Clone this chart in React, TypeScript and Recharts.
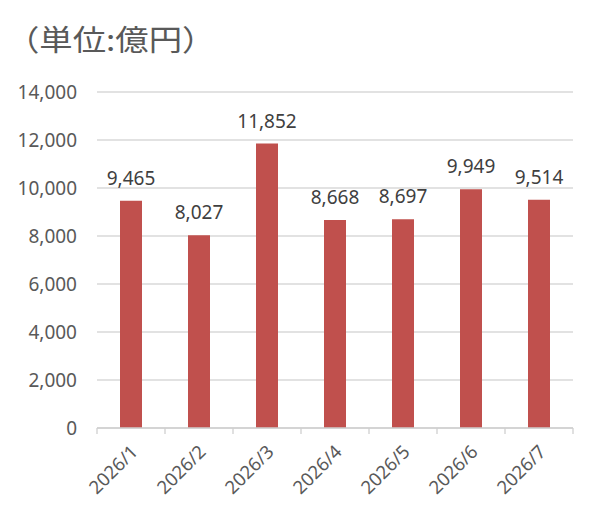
import React from "react";
import { BarChart, Bar, XAxis, YAxis, CartesianGrid, LabelList } from "recharts";

const months = ["2026/1", "2026/2", "2026/3", "2026/4", "2026/5", "2026/6", "2026/7"];
const amounts = [9465, 8027, 11852, 8668, 8697, 9949, 9514];
const yTicks = [0, 2000, 4000, 6000, 8000, 10000, 12000, 14000];
const boundaryTicks = [0, 1, 2, 3, 4, 5, 6, 7];

const TEXT = "#595959";
const FONT = "'Noto Sans', 'Open Sans', sans-serif";

const data = months.map((m, i) => ({ month: m, value: amounts[i], idx: i + 0.5 }));

const fmt = (v: number) => v.toLocaleString("en-US");

function MonthTick(props: any) {
  const { x, y, payload } = props;
  return (
    <g transform={`translate(${x + 8},${y + 24})`}>
      <text
        x={0}
        y={0}
        textAnchor="end"
        transform="rotate(-45)"
        fill={TEXT}
        fontSize={18.5}
        fontFamily={FONT}
      >
        {payload.value}
      </text>
    </g>
  );
}

export default function App() {
  return (
    <div style={{ position: "fixed", left: 0, top: 0, width: 600, height: 523, background: "#fff" }}>
      <div
        style={{
          position: "absolute",
          left: 6,
          top: 24,
          fontSize: 29,
          lineHeight: 1,
          color: TEXT,
          fontFamily: "'Noto Sans CJK JP', sans-serif",
          whiteSpace: "nowrap",
          transform: "scaleX(1.15)",
          transformOrigin: "left top",
        }}
      >
        （単位:億円）
      </div>
      <BarChart
        width={600}
        height={523}
        data={data}
        margin={{ top: 92, right: 27, bottom: 13, left: 0 }}
      >
        <CartesianGrid xAxisId="x1" vertical={false} stroke="#d9d9d9" strokeWidth={1.3} />
        <XAxis
          xAxisId="x0"
          type="number"
          dataKey="idx"
          domain={[0, 7]}
          ticks={boundaryTicks}
          height={1}
          tickFormatter={() => ""}
          tickSize={6}
          tickLine={{ stroke: "#cfcfcf", strokeWidth: 1.3 }}
          axisLine={{ stroke: "#cfcfcf", strokeWidth: 1.3 }}
        />
        <XAxis
          xAxisId="x1"
          dataKey="month"
          height={81}
          axisLine={false}
          tickLine={false}
          tickSize={0}
          tickMargin={0}
          interval={0}
          tick={<MonthTick />}
        />
        <YAxis
          width={97}
          domain={[0, 14000]}
          ticks={yTicks}
          axisLine={false}
          tickLine={false}
          tickSize={0}
          tickMargin={20}
          tickFormatter={fmt}
          tick={{ fill: TEXT, fontSize: 19, fontFamily: FONT }}
        />
        <Bar xAxisId="x1" dataKey="value" fill="#C0504D" barSize={22} isAnimationActive={false}>
          <LabelList
            dataKey="value"
            position="top"
            offset={16}
            formatter={(v: any) => fmt(Number(v))}
            fill="#404040"
            fontSize={19}
            fontFamily={FONT}
          />
        </Bar>
      </BarChart>
    </div>
  );
}
